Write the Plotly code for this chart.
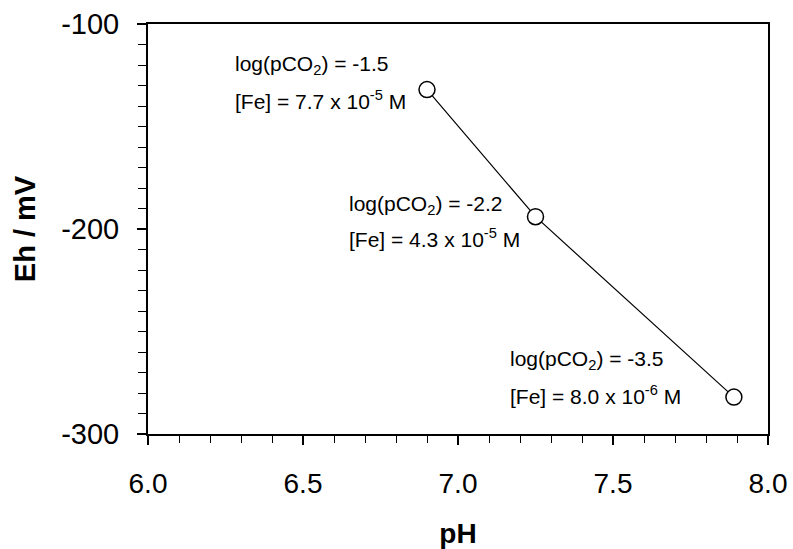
import plotly.graph_objects as go

# Data
ph = [6.90, 7.25, 7.89]
eh = [-132, -194, -282]

x_ticks = [6.0, 6.5, 7.0, 7.5, 8.0]
x_ticktext = ["6.0", "6.5", "7.0", "7.5", "8.0"]
y_ticks = [-300, -200, -100]
y_ticktext = ["-300", "-200", "-100"]

co2_labels = ["log(pCO<sub>2</sub>) = -1.5", "log(pCO<sub>2</sub>) = -2.2", "log(pCO<sub>2</sub>) = -3.5"]
fe_labels = ["[Fe] = 7.7 x 10<sup>-5</sup> M", "[Fe] = 4.3 x 10<sup>-5</sup> M", "[Fe] = 8.0 x 10<sup>-6</sup> M"]
label_x = [6.274, 6.642, 7.161]
label_y1 = [-120, -188.3, -263.9]
label_y2 = [-137, -204.4, -281]

FONT = "Arial, Liberation Sans, sans-serif"

fig = go.Figure()
fig.add_trace(go.Scatter(
    x=ph, y=eh, mode="lines+markers",
    line=dict(color="black", width=1.2),
    marker=dict(symbol="circle", size=16, color="white", line=dict(color="black", width=1.5)),
    showlegend=False,
))

annotations = []
for i in range(len(ph)):
    annotations.append(dict(x=label_x[i], y=label_y1[i], xref="x", yref="y", text=co2_labels[i],
                            showarrow=False, xanchor="left", yanchor="middle",
                            font=dict(family=FONT, size=21, color="black")))
    annotations.append(dict(x=label_x[i], y=label_y2[i], xref="x", yref="y", text=fe_labels[i],
                            showarrow=False, xanchor="left", yanchor="middle",
                            font=dict(family=FONT, size=21, color="black")))

fig.update_layout(
    width=793, height=549,
    margin=dict(l=148, r=25, t=24, b=115, autoexpand=False),
    paper_bgcolor="white", plot_bgcolor="white",
    font=dict(family=FONT, color="black"),
    annotations=annotations,
    xaxis=dict(
        range=[6.0, 8.0], tickmode="array", tickvals=x_ticks, ticktext=x_ticktext,
        automargin=False,
        ticks="outside", ticklen=9, tickwidth=1.5, tickcolor="black", ticklabelstandoff=14,
        minor=dict(dtick=0.1, tick0=6.0, ticks="outside", ticklen=7, tickwidth=1.2, tickcolor="black"),
        showline=True, linecolor="black", linewidth=2, mirror=True,
        showgrid=False, zeroline=False,
        tickfont=dict(family=FONT, size=28, color="black"),
        title=dict(text="<b>pH</b>", font=dict(family=FONT, size=28, color="black"), standoff=26),
    ),
    yaxis=dict(
        range=[-300, -100], tickmode="array", tickvals=y_ticks, ticktext=y_ticktext,
        automargin=False,
        ticks="outside", ticklen=9, tickwidth=1.5, tickcolor="black", ticklabelstandoff=12,
        minor=dict(dtick=10, tick0=-300, ticks="outside", ticklen=8, tickwidth=1.2, tickcolor="black"),
        showline=True, linecolor="black", linewidth=2, mirror=True,
        showgrid=False, zeroline=False,
        tickfont=dict(family=FONT, size=29, color="black"),
        title=dict(text="<b>Eh / mV</b>", font=dict(family=FONT, size=29, color="black"), standoff=17),
    ),
)

fig.write_html("out.html", config={"displayModeBar": False},
               post_script="document.body.style.margin='0';document.body.style.overflow='hidden';")
